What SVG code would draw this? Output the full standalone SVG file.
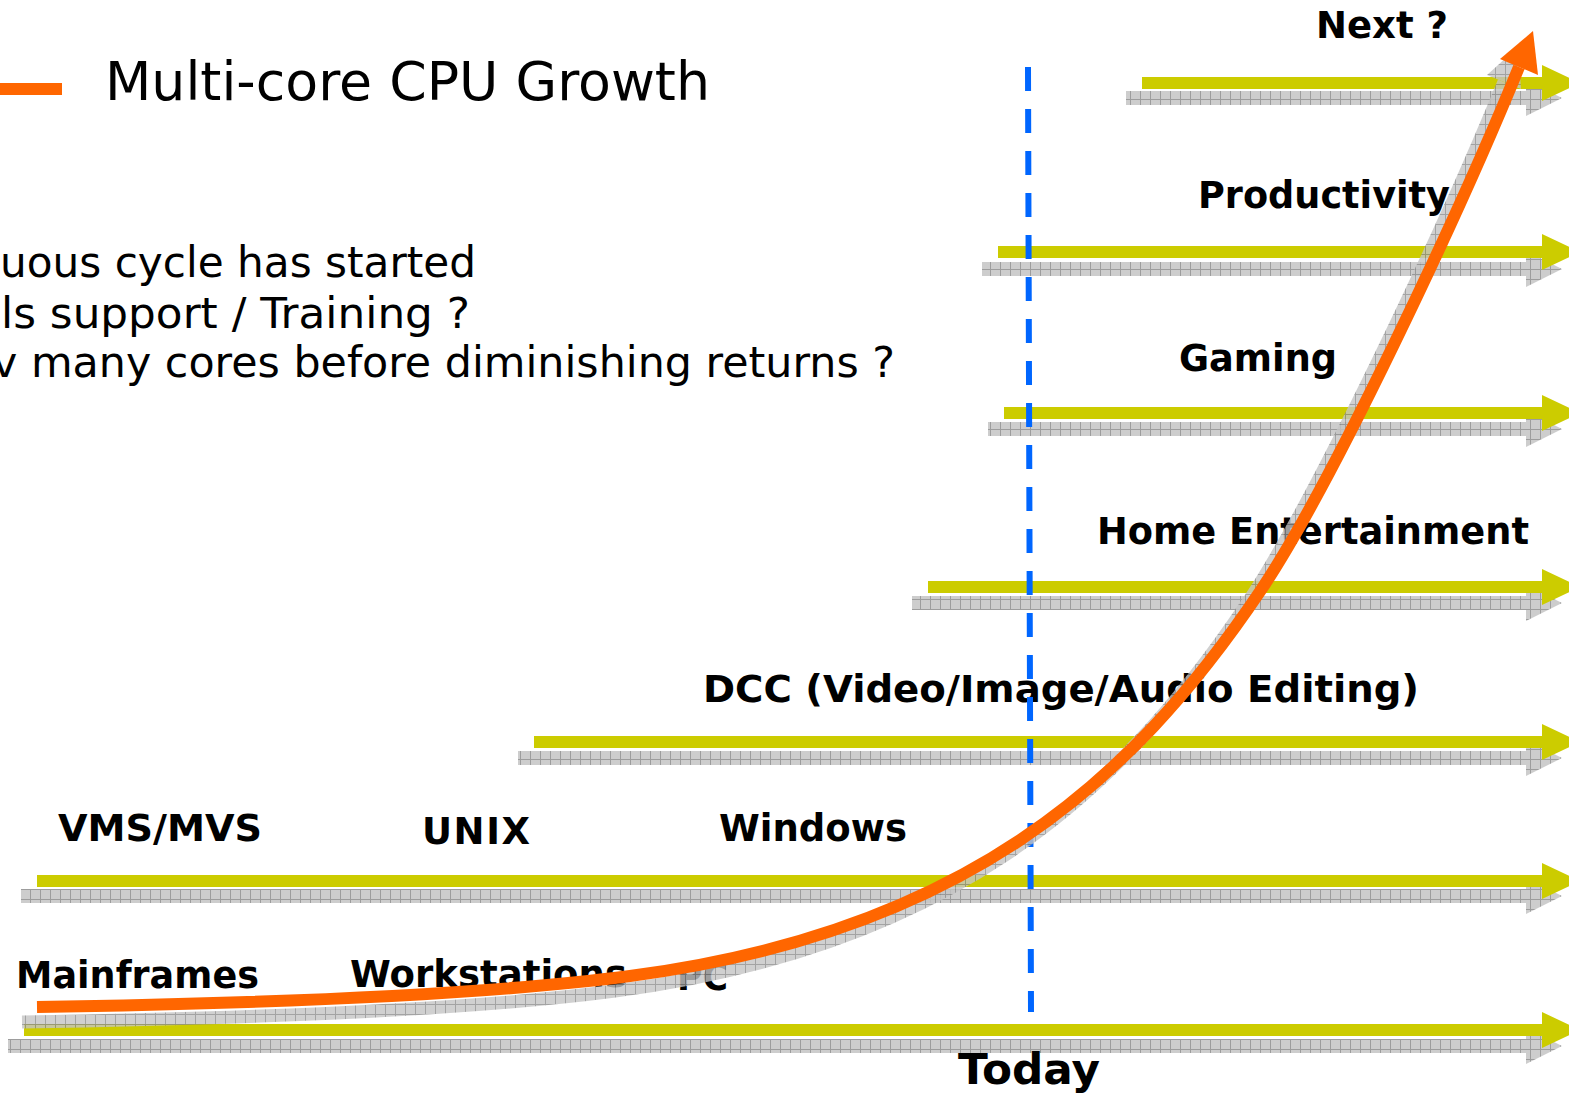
<svg xmlns="http://www.w3.org/2000/svg" width="1569" height="1093" viewBox="0 0 1569 1093">
  <defs>
    <!-- hatched grey fill used for all drop shadows -->
    <pattern id="grid" width="10" height="10" patternUnits="userSpaceOnUse">
      <rect width="10" height="10" fill="#c4c4c4"/>
      <path d="M0.5 0V10M0 9.5H10" stroke="#8c8c8c" stroke-width="1"/>
    </pattern>
    <style>
      .bar { fill: #cccc00; }
      .shadow { fill: url(#grid); opacity: 0.85; }
      .lbl { font-family: "DejaVu Sans", Verdana, sans-serif; font-weight: bold; font-size: 37px; fill: #000; }
      .body { font-family: "DejaVu Sans", Verdana, sans-serif; font-size: 42px; fill: #000; }
    </style>
  </defs>

  <rect width="1569" height="1093" fill="#fff"/>

  <!-- legend -->
  <g id="legend">
    <rect x="0" y="83" width="62" height="12" fill="#ff6600"/>
    <text x="105" y="100" font-family="DejaVu Sans, Verdana, sans-serif" font-size="54" textLength="605" lengthAdjust="spacingAndGlyphs">Multi-core CPU Growth</text>
  </g>

  <!-- bullet text -->
  <g id="notes" class="body">
    <text x="0" y="277" textLength="476" lengthAdjust="spacingAndGlyphs">uous cycle has started</text>
    <text x="1" y="328" textLength="469" lengthAdjust="spacingAndGlyphs">ls support / Training ?</text>
    <text x="-8" y="377" textLength="903" lengthAdjust="spacingAndGlyphs">v many cores before diminishing returns ?</text>
  </g>

  <!-- market arrows: shadow then yellow bar -->
  <g id="connectors">
    <g id="row-next">
      <path class="shadow" d="M1126 91H1526V80L1562 98L1526 116V105H1126Z"/>
      <path class="bar" d="M1142 77H1542V65L1580 83L1542 101V89H1142Z"/>
    </g>
    <g id="row-productivity">
      <path class="shadow" d="M982 262H1526V251L1562 269L1526 287V276H982Z"/>
      <path class="bar" d="M998 246H1542V234L1580 252L1542 270V258H998Z"/>
    </g>
    <g id="row-gaming">
      <path class="shadow" d="M988 422H1526V411L1562 429L1526 447V436H988Z"/>
      <path class="bar" d="M1004 407H1542V395L1580 413L1542 431V419H1004Z"/>
    </g>
    <g id="row-home">
      <path class="shadow" d="M912 596H1526V585L1562 603L1526 621V610H912Z"/>
      <path class="bar" d="M928 581H1542V569L1580 587L1542 605V593H928Z"/>
    </g>
    <g id="row-dcc">
      <path class="shadow" d="M518 751H1526V740L1562 758L1526 776V765H518Z"/>
      <path class="bar" d="M534 736H1542V724L1580 742L1542 760V748H534Z"/>
    </g>
    <g id="row-os">
      <path class="shadow" d="M21 889H1526V878L1562 896L1526 914V903H21Z"/>
      <path class="bar" d="M37 875H1542V863L1580 881L1542 899V887H37Z"/>
    </g>
    <g id="row-hw">
      <path class="shadow" d="M8 1039H1526V1028L1562 1046L1526 1064V1053H8Z"/>
      <path class="bar" d="M24 1024H1542V1012L1580 1030L1542 1048V1036H24Z"/>
    </g>
  </g>

  <!-- labels -->
  <g id="labels" class="lbl">
    <text x="1316" y="38" textLength="132" lengthAdjust="spacingAndGlyphs">Next ?</text>
    <text x="1198" y="208" textLength="252" lengthAdjust="spacingAndGlyphs">Productivity</text>
    <text x="1179" y="371" textLength="158" lengthAdjust="spacingAndGlyphs">Gaming</text>
    <text x="1097" y="544" textLength="432" lengthAdjust="spacingAndGlyphs">Home Entertainment</text>
    <text x="703" y="702" textLength="716" lengthAdjust="spacingAndGlyphs">DCC (Video/Image/Audio Editing)</text>
    <text x="58" y="841" textLength="204" lengthAdjust="spacingAndGlyphs">VMS/MVS</text>
    <text x="422" y="844" textLength="108" lengthAdjust="spacing">UNIX</text>
    <text x="719" y="841" textLength="188" lengthAdjust="spacingAndGlyphs">Windows</text>
    <text x="16" y="988" textLength="243" lengthAdjust="spacingAndGlyphs">Mainframes</text>
    <text x="350" y="987" textLength="277" lengthAdjust="spacingAndGlyphs">Workstations</text>
    <text x="677" y="990" textLength="51" lengthAdjust="spacingAndGlyphs">PC</text>
    <text x="958" y="1084" font-size="42" textLength="142" lengthAdjust="spacingAndGlyphs">Today</text>
  </g>

  <!-- "today" marker -->
  <g id="today-line">
    <line x1="1028" y1="67" x2="1031" y2="1012" stroke="#0066ff" stroke-width="6" stroke-dasharray="24 18"/>
  </g>

  <!-- growth curve with its shadow -->
  <g id="growth-curve">
    <g transform="translate(-15 15)" opacity="0.8">
      <path d="M37 1007C300 1003 500 993 630 976C960 933 1130 785 1261 590C1331 486 1459 214 1519 67" fill="none" stroke="url(#grid)" stroke-width="13"/>
      <path d="M1533 32L1536 74L1502 60Z" fill="url(#grid)"/>
    </g>
    <path d="M37 1007C300 1003 500 993 630 976C960 933 1130 785 1261 590C1331 486 1459 214 1519 67" fill="none" stroke="#ff6600" stroke-width="12"/>
    <path d="M1533 31L1538 75L1500 59Z" fill="#ff6600"/>
  </g>
</svg>
